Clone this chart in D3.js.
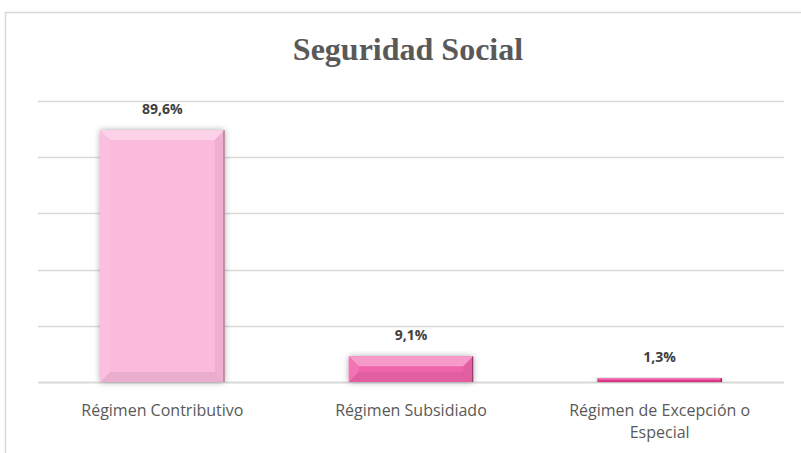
<!DOCTYPE html>
<html>
<head>
<meta charset="utf-8">
<script src="https://cdn.jsdelivr.net/npm/d3@7"></script>
<style>
  body { margin: 0; background: #fff; }
  svg { display: block; }
</style>
</head>
<body>
<div id="chart"></div>
<script>
// data
var categories = ["Régimen Contributivo", "Régimen Subsidiado", "Régimen de Excepción o Especial"];
var values = [89.6, 9.1, 1.3];
var valueLabels = ["89,6%", "9,1%", "1,3%"];
var barColors = ["#fbb9dc", "#f064ac", "#e8358c"];
var yTicks = [0, 20, 40, 60, 80, 100];

var W = 801, H = 453;
var margin = {top: 101, right: 17, bottom: 71, left: 38},
    width = W - margin.left - margin.right,
    height = H - margin.top - margin.bottom;

var svg = d3.select("#chart")
  .append("svg")
    .attr("width", W)
    .attr("height", H);

var defs = svg.append("defs");
var sh = defs.append("filter").attr("id", "shadow")
    .attr("x", "-20%").attr("y", "-20%").attr("width", "140%").attr("height", "140%");
sh.append("feDropShadow")
    .attr("dx", 0).attr("dy", 0).attr("stdDeviation", 3)
    .attr("flood-color", "#000").attr("flood-opacity", 0.35);

// chart area border (runs off the right and bottom)
svg.append("rect")
    .attr("x", 5.5).attr("y", 12.5)
    .attr("width", W + 20).attr("height", H + 20)
    .attr("fill", "none")
    .attr("stroke", "#d9d9d9")
    .attr("stroke-width", 1.5);

svg.append("text")
    .attr("x", 408)
    .attr("y", 60)
    .attr("text-anchor", "middle")
    .style("font-family", "'Liberation Serif', 'Times New Roman', serif")
    .style("font-weight", "bold")
    .style("font-size", "32px")
    .style("fill", "#595959")
    .text("Seguridad Social");

var g = svg.append("g")
    .attr("transform", "translate(" + margin.left + "," + margin.top + ")");

var x = d3.scaleBand()
    .domain(categories)
    .range([0, width])
    .paddingInner(0.5)
    .paddingOuter(0.25);

var y = d3.scaleLinear()
    .domain([0, 100])
    .range([height, 0]);

// gridlines
g.append("g")
  .selectAll("line")
  .data(yTicks)
  .enter()
  .append("line")
    .attr("x1", 0)
    .attr("x2", width)
    .attr("y1", function(d) { return Math.round(y(d)) + 0.5; })
    .attr("y2", function(d) { return Math.round(y(d)) + 0.5; })
    .attr("stroke", "#d9d9d9")
    .attr("stroke-width", function(d) { return d === 0 ? 2 : 1.5; });

// bars with bevel
var bars = g.selectAll("g.bar")
  .data(values)
  .enter()
  .append("g")
    .attr("class", "bar")
    .attr("transform", function(d, i) { return "translate(" + x(categories[i]) + "," + y(d) + ")"; });

bars.append("rect")
    .attr("width", x.bandwidth())
    .attr("height", function(d) { return height - y(d); })
    .attr("fill", function(d, i) { return barColors[i]; })
    .attr("filter", "url(#shadow)");

bars.each(function(d, i) {
  var el = d3.select(this);
  var w = x.bandwidth(), h = height - y(d);
  var b = Math.min(10, h / 2.5);
  var c = d3.color(barColors[i]);
  // top
  el.append("polygon")
    .attr("points", [[0,0],[w,0],[w-b,b],[b,b]].join(" "))
    .attr("fill", d3.interpolateRgb(c, "#fff")(0.35));
  // left
  el.append("polygon")
    .attr("points", [[0,0],[b,b],[b,h-b],[0,h]].join(" "))
    .attr("fill", d3.interpolateRgb(c, "#fff")(0.1));
  // right
  el.append("polygon")
    .attr("points", [[w,0],[w,h],[w-b,h-b],[w-b,b]].join(" "))
    .attr("fill", c.darker(0.15));
  // bottom
  el.append("polygon")
    .attr("points", [[0,h],[b,h-b],[w-b,h-b],[w,h]].join(" "))
    .attr("fill", c.darker(0.18));
  el.append("rect")
    .attr("x", b).attr("y", b)
    .attr("width", Math.max(0, w - 2 * b))
    .attr("height", Math.max(0, h - 2 * b))
    .attr("fill", c);
  el.append("line")
    .attr("x1", w - 0.5).attr("x2", w - 0.5)
    .attr("y1", 0).attr("y2", h)
    .attr("stroke", c.darker(1.6))
    .attr("stroke-width", 1);
});

// value labels
g.selectAll("text.val")
  .data(values)
  .enter()
  .append("text")
    .attr("class", "val")
    .attr("x", function(d, i) { return x(categories[i]) + x.bandwidth() / 2; })
    .attr("y", function(d) { return y(d) - 16; })
    .attr("text-anchor", "middle")
    .style("font-family", "'Open Sans', Lato, sans-serif")
    .style("font-weight", "bold")
    .style("font-size", "14px")
    .style("fill", "#404040")
    .text(function(d, i) { return valueLabels[i]; });

// category labels (wrapped like the original)
var xAxis = g.append("g")
    .attr("transform", "translate(0," + height + ")");

xAxis.selectAll("text")
  .data(categories)
  .enter()
  .append("text")
    .attr("x", function(d) { return x(d) + x.bandwidth() / 2; })
    .attr("y", 34)
    .attr("text-anchor", "middle")
    .style("font-family", "'Open Sans', Lato, sans-serif")
    .style("font-size", "16px")
    .style("fill", "#595959")
    .each(function(d) {
      var lines = d === "Régimen de Excepción o Especial" ? ["Régimen de Excepción o", "Especial"] : [d];
      var t = d3.select(this);
      lines.forEach(function(l, k) {
        t.append("tspan")
          .attr("x", x(d) + x.bandwidth() / 2)
          .attr("dy", k === 0 ? 0 : 22)
          .text(l);
      });
    });
</script>
</body>
</html>
